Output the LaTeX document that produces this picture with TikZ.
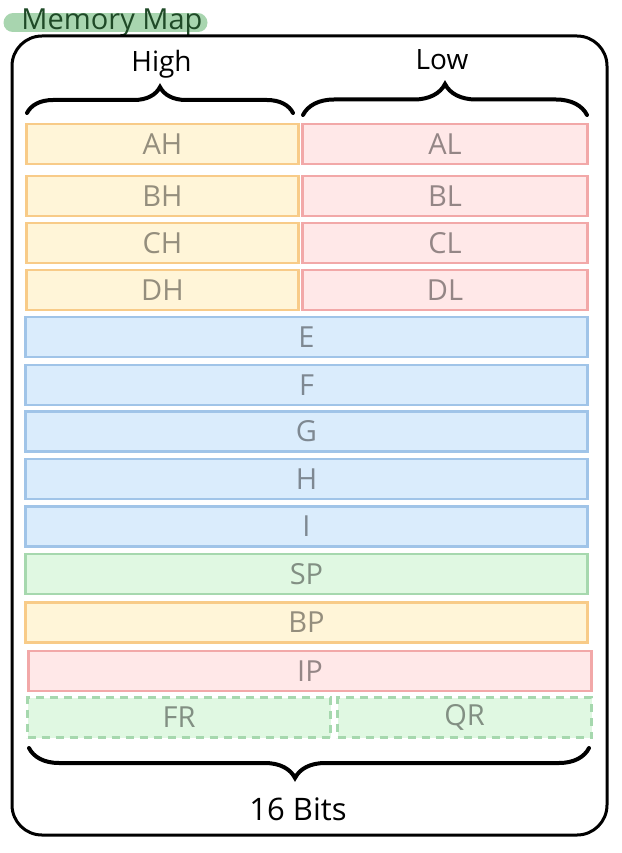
\documentclass[tikz,border=0pt]{standalone}
\usepackage{fontspec}
\setmainfont{Open Sans}
\usepackage{xcolor}
\usepackage{tikz}
\usetikzlibrary{decorations.pathreplacing}

\definecolor{yfill}{HTML}{FFF5D8}
\definecolor{ydraw}{HTML}{F8CB88}
\definecolor{rfill}{HTML}{FFE8E8}
\definecolor{rdraw}{HTML}{F2A8A8}
\definecolor{bfill}{HTML}{DAECFC}
\definecolor{bdraw}{HTML}{A0C4E8}
\definecolor{gfill}{HTML}{E0F8E2}
\definecolor{gdraw}{HTML}{A6D8AE}
\definecolor{titlegreen}{HTML}{1F4A27}
\definecolor{marker}{HTML}{A8D5AF}

\tikzset{
  reg/.style={rectangle, draw, line width=2.2pt, minimum height=40pt,
    inner sep=0pt, outer sep=0pt, font=\fontsize{29}{32}\selectfont,
    text=black, text opacity=0.42},
  yreg/.style={reg, fill=yfill, draw=ydraw},
  rreg/.style={reg, fill=rfill, draw=rdraw},
  breg/.style={reg, fill=bfill, draw=bdraw},
  greg/.style={reg, fill=gfill, draw=gdraw},
  curly/.style={decorate, decoration={brace, amplitude=#1}, line width=4pt, line cap=round},
  caption/.style={font=\fontsize{28}{32}\selectfont, anchor=base},
}

\begin{document}
\begin{tikzpicture}[x=1pt, y=-1pt]
			\useasboundingbox (0,0) rectangle (621,853);
			
			% Title with marker
			\draw[marker, line width=19pt, line cap=round] (13,23) -- (198,23);
			\node[caption, text=titlegreen, font=\fontsize{29}{32}\selectfont] (title) at (112,30) {Memory Map};
			
			% Outer frame
			\draw[line width=3pt, rounded corners=30pt] (12,36) rectangle (607,835);
			
			% High / Low halves
			\node[caption] (high) at (161.5,72) {High};
			\node[caption] (low) at (442,70) {Low};
			\coordinate (hl) at (27,113);
			\coordinate (hr) at (293,113);
			\coordinate (ll) at (303,115);
			\coordinate (lr) at (587,115);
			\draw[curly=26pt] (hl) -- (hr);
			\draw[curly=31pt] (ll) -- (lr);
			
			% Split registers
			\node[yreg, minimum width=272pt] (ah) at (162.5,144) {AH};
			\node[rreg, minimum width=285pt] (al) at (445,144) {AL};
			\node[yreg, minimum width=272pt] (bh) at (162.5,196) {BH};
			\node[rreg, minimum width=285pt] (bl) at (445,196) {BL};
			\node[yreg, minimum width=272pt] (ch) at (162.5,243) {CH};
			\node[rreg, minimum width=285pt] (cl) at (445,243) {CL};
			\node[yreg, minimum width=272pt] (dh) at (162.5,290) {DH};
			\node[rreg, minimum width=285pt] (dl) at (445,290) {DL};
			
			% Full registers
			\node[breg, minimum width=562pt] (e) at (306.5,337) {E};
			\node[breg, minimum width=562pt] (f) at (306.5,385) {F};
			\node[breg, minimum width=562pt] (g) at (306.5,431.5) {G};
			\node[breg, minimum width=562pt] (h) at (306.5,479) {H};
			\node[breg, minimum width=562pt] (i) at (306.5,526.5) {I};
			\node[greg, minimum width=562pt] (sp) at (306.5,574) {SP};
			\node[yreg, minimum width=562pt] (bp) at (306.5,622.5) {BP};
			\node[rreg, minimum width=563pt] (ip) at (310,671) {IP};
			
			% Flags
			\node[greg, dash pattern=on 8pt off 6pt, minimum width=303pt] (fr) at (179,717.5) {FR};
			\node[greg, dash pattern=on 8pt off 6pt, minimum width=254pt] (qr) at (464.5,717.5) {QR};
			
			% Width brace
			\coordinate (bl0) at (29,748);
			\coordinate (br0) at (589,748);
			\draw[curly=30pt, decoration={aspect=0.525}] (br0) -- (bl0);
			\node[caption, font=\fontsize{31}{34}\selectfont] (bits) at (298,820) {16 Bits};
			
		\end{tikzpicture}
\end{document}
